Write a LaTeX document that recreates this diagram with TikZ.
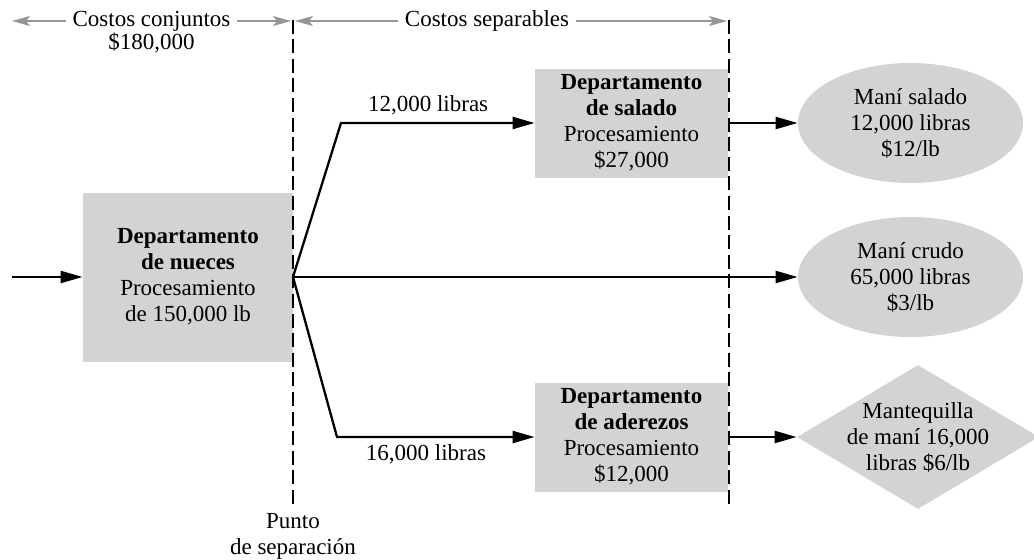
\documentclass[tikz,border=0pt]{standalone}
\usepackage{fontspec}
\setmainfont{Liberation Serif}
\usepackage{xcolor}
\usetikzlibrary{positioning,arrows.meta,shapes.geometric}
\definecolor{boxgray}{RGB}{209,211,212}
\definecolor{arrgray}{RGB}{147,149,152}

\begin{document}
\begin{tikzpicture}[x=0.5pt, y=0.5pt, font=\fontsize{11.5}{13}\selectfont,
  dept/.style={fill=boxgray, align=center, inner sep=0pt, minimum width=96.5pt, minimum height=54.5pt},
  prod/.style={ellipse, fill=boxgray, align=center, inner sep=0pt, minimum width=112.5pt, minimum height=60pt},
  flow/.style={-{Triangle[length=11pt,width=6pt]}, line width=1.15pt},
  span/.style={-{Stealth[length=9pt,width=5pt,inset=2pt]}, arrgray, line width=0.8pt},
  cut/.style={line width=1.15pt, dash pattern=on 7pt off 2.8pt}]
\useasboundingbox (0,0) rectangle (1034,559);
% departments
\node[dept, minimum width=105pt, minimum height=84.5pt] (nueces) at (188,282)
  {\textbf{Departamento}\\\textbf{de nueces}\\Procesamiento\\de 150,000 lb};
\node[dept] (salado) at (631.5,436) {\textbf{Departamento}\\\textbf{de salado}\\Procesamiento\\\$27,000};
\node[dept] (aderezos) at (631.5,122) {\textbf{Departamento}\\\textbf{de aderezos}\\Procesamiento\\\$12,000};
% products
\node[prod] (msalado) at (910.5,436) {Maní salado\\12,000 libras\\\$12/lb};
\node[prod] (mcrudo) at (910.5,282) {Maní crudo\\65,000 libras\\\$3/lb};
\node[diamond, aspect=1.68, fill=boxgray, align=center, inner sep=-3pt,
  minimum width=121pt, minimum height=72pt] (mantequilla) at (918,122)
  {Mantequilla\\de maní 16,000\\libras \$6/lb};
% split-off lines
\coordinate (cutAtop) at (293,544);
\coordinate (cutAbot) at (293,55);
\coordinate (cutBtop) at (729,544);
\coordinate (cutBbot) at (729,55);
\draw[cut] (cutAbot) -- (cutAtop);
\draw[cut] (cutBbot) -- (cutBtop);
% flows
\coordinate (inflow) at (12,282);
\coordinate (split) at (293,282);
\coordinate (bendup) at (341,436);
\coordinate (benddn) at (337,122);
\draw[flow] (inflow) -- (nueces);
\draw[flow] (split) -- (bendup) -- node[above, pos=0.45]{12,000 libras} (salado);
\draw[flow] (split) -- (mcrudo);
\draw[flow] (split) -- (benddn) -- node[below, pos=0.45]{16,000 libras} (aderezos);
\draw[flow] (salado) -- (msalado);
\draw[flow] (aderezos) -- (mantequilla);
% cost spans
\node (conj) at (151.5,538) {Costos conjuntos};
\node (conjval) at (151.5,516) {\$180,000};
\node (sep) at (487,538) {Costos separables};
\coordinate (tl) at (12,538);
\coordinate (ta) at (291,538);
\coordinate (tb) at (295,538);
\coordinate (tc) at (727,538);
\draw[span] (conj) -- (tl);
\draw[span] (conj) -- (ta);
\draw[span] (sep) -- (tb);
\draw[span] (sep) -- (tc);
\node[align=center] (punto) at (293,23) {Punto\\de separación};
\end{tikzpicture}
\end{document}
